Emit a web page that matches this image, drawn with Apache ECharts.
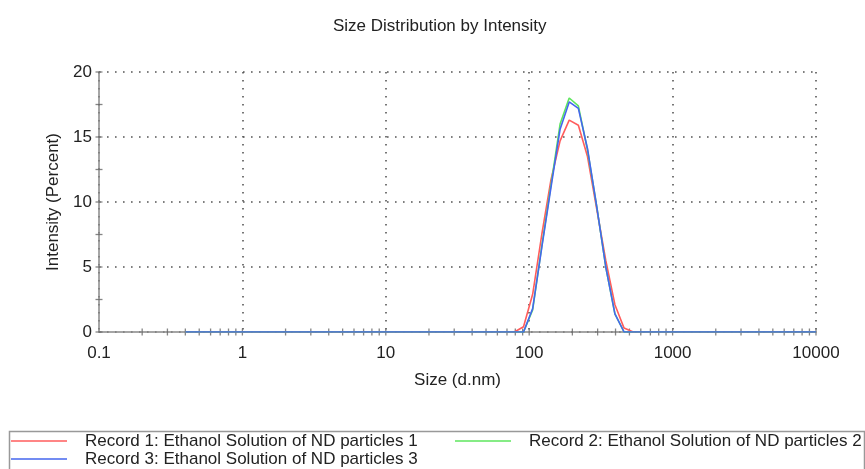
<!DOCTYPE html>
<html>
<head>
<meta charset="utf-8">
<script src="https://cdn.jsdelivr.net/npm/echarts@6/dist/echarts.min.js"></script>
<style>html,body{margin:0;padding:0;background:#fff}#c{width:865px;height:469px}</style>
</head>
<body>
<div id="c"></div>
<script>
// Size bins (d.nm)
const sizes = [0.4, 0.4632, 0.5365, 0.6213, 0.7195, 0.8332, 0.9649, 1.117, 1.294, 1.499,
  1.736, 2.01, 2.328, 2.696, 3.122, 3.615, 4.187, 4.849, 5.615, 6.503,
  7.531, 8.721, 10.1, 11.7, 13.54, 15.69, 18.17, 21.04, 24.36, 28.21,
  32.67, 37.84, 43.82, 50.75, 58.77, 68.06, 78.82, 91.28, 105.7, 122.4,
  141.8, 164.2, 190.1, 220.2, 255.0, 295.3, 342.0, 396.1, 458.7, 531.2,
  615.1, 712.4, 825.0, 955.4, 1106, 1281, 1484, 1718, 1990, 2305,
  2669, 3091, 3580, 4145, 4801, 5560, 6439, 7456, 8635, 10000];
// Intensity (%) per bin
const record1 = [0,0,0,0,0,0,0,0,0,0, 0,0,0,0,0,0,0,0,0,0, 0,0,0,0,0,0,0,0,0,0,
  0,0,0,0,0,0,0,0.4,2.9,7.5, 11.7,14.7,16.3,15.9,13.5,9.5,5.5,2.1,0.3,0,
  0,0,0,0,0,0,0,0,0,0, 0,0,0,0,0,0,0,0,0,0];
const record2 = [0,0,0,0,0,0,0,0,0,0, 0,0,0,0,0,0,0,0,0,0, 0,0,0,0,0,0,0,0,0,0,
  0,0,0,0,0,0,0,0,1.7,6.6, 11.3,16.0,18.0,17.4,14.0,9.7,5.0,1.4,0,0,
  0,0,0,0,0,0,0,0,0,0, 0,0,0,0,0,0,0,0,0,0];
const record3 = [0,0,0,0,0,0,0,0,0,0, 0,0,0,0,0,0,0,0,0,0, 0,0,0,0,0,0,0,0,0,0,
  0,0,0,0,0,0,0,0,1.8,6.5, 11.1,15.6,17.7,17.2,14.1,9.7,5.0,1.4,0,0,
  0,0,0,0,0,0,0,0,0,0, 0,0,0,0,0,0,0,0,0,0];
const seriesNames = ['Record 1: Ethanol Solution of ND particles 1',
  'Record 2: Ethanol Solution of ND particles 2',
  'Record 3: Ethanol Solution of ND particles 3'];
// Tick marks
const xTickValues = [0.2,0.3,0.4,0.5,0.6,0.7,0.8,0.9,1,
  2,3,4,5,6,7,8,9,10, 20,30,40,50,60,70,80,90,100,
  200,300,400,500,600,700,800,900,1000, 2000,3000,4000,5000,6000,7000,8000,9000,10000];
const yTickValues = [0,2.5,5,7.5,10,12.5,15,17.5,20];

const FONT = "'Liberation Sans', Arial, Helvetica, sans-serif";
const FS = 17;
const colors = ['#ff5c5c', '#5ee65e', '#4466ee'];
const dotted = {color:'#555', width:1.6, type:[1.6, 6.4]};

const pairs = (vals) => sizes.map((s, i) => [s, vals[i]]);

const chart = echarts.init(document.getElementById('c'), null, {renderer:'canvas'});
chart.setOption({
  animation:false,
  backgroundColor:'#fff',
  textStyle:{fontFamily:FONT},
  title:{text:'Size Distribution by Intensity', left:328, top:13,
    textStyle:{fontFamily:FONT, fontSize:FS, fontWeight:'normal', color:'#222'}},
  grid:{left:99, right:49, top:72, bottom:137},
  xAxis:{type:'log', logBase:10, min:0.1, max:10000,
    name:'Size (d.nm)', nameLocation:'middle', nameGap:40,
    nameTextStyle:{fontFamily:FONT, fontSize:FS, color:'#222'},
    axisLine:{lineStyle:{color:'#888', width:1.5}},
    axisTick:{show:false},
    axisLabel:{margin:13, fontFamily:FONT, fontSize:FS, color:'#222',
      formatter:(v)=> String(v)},
    splitLine:{show:true, lineStyle:dotted}},
  yAxis:{type:'value', min:0, max:20, interval:5,
    name:'Intensity (Percent)', nameLocation:'middle', nameGap:35,
    nameTextStyle:{fontFamily:FONT, fontSize:FS, color:'#222'},
    axisLine:{show:true, lineStyle:{color:'#888', width:1.5}},
    axisTick:{show:false},
    axisLabel:{margin:7, fontFamily:FONT, fontSize:FS, color:'#222'},
    splitLine:{show:true, lineStyle:dotted}},
  legend:[
    {data:[seriesNames[0]], left:11, top:432, padding:0, icon:'rect', itemWidth:56, itemHeight:1.5,
      textStyle:{fontFamily:FONT, fontSize:FS, color:'#222', lineHeight:18, padding:[0,0,0,13]}},
    {data:[seriesNames[1]], left:455, top:432, padding:0, icon:'rect', itemWidth:56, itemHeight:1.5,
      textStyle:{fontFamily:FONT, fontSize:FS, color:'#222', lineHeight:18, padding:[0,0,0,13]}},
    {data:[seriesNames[2]], left:11, top:450, padding:0, icon:'rect', itemWidth:56, itemHeight:1.5,
      textStyle:{fontFamily:FONT, fontSize:FS, color:'#222', lineHeight:18, padding:[0,0,0,13]}}
  ],
  graphic:[{type:'rect', left:7, top:429, shape:{width:855, height:50},
    style:{fill:'none', stroke:'#999', lineWidth:1.5}, silent:true}],
  series:[
    {type:'scatter', name:'xticks', data:xTickValues.map(v=>[v,0]), symbol:'rect', symbolSize:[1.3,7],
      itemStyle:{color:'#666'}, silent:true, clip:false, z:1},
    {type:'scatter', name:'yticks', data:yTickValues.map(v=>[0.1,v]), symbol:'rect', symbolSize:[7,1.3],
      itemStyle:{color:'#666'}, silent:true, clip:false, z:1},
    {type:'line', name:seriesNames[0], data:pairs(record1), showSymbol:false, symbol:'none',
      lineStyle:{color:colors[0], width:1.6}, itemStyle:{color:colors[0]}, z:3},
    {type:'line', name:seriesNames[1], data:pairs(record2), showSymbol:false, symbol:'none',
      lineStyle:{color:colors[1], width:1.6}, itemStyle:{color:colors[1]}, z:3},
    {type:'line', name:seriesNames[2], data:pairs(record3), showSymbol:false, symbol:'none',
      lineStyle:{color:colors[2], width:1.6}, itemStyle:{color:colors[2]}, z:3}
  ]
});
</script>
</body>
</html>
